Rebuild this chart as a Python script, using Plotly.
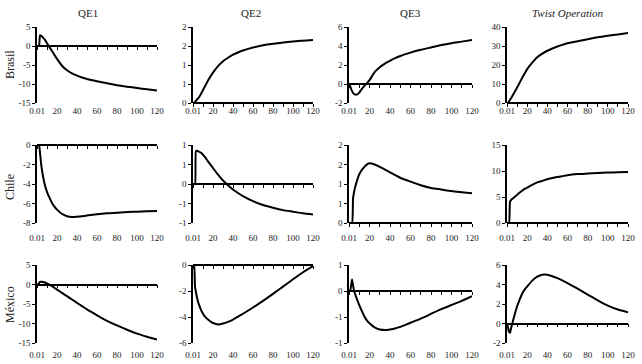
import plotly.graph_objects as go

MONTHS = [0.01, 1, 2, 3, 4, 5, 6, 8, 10, 12, 15, 18, 20, 25, 30, 35, 40, 45, 50, 60, 70, 80, 90, 100, 110, 120]

COLUMNS = ["QE1", "QE2", "QE3", "<i>Twist Operation</i>"]
ROWS = ["Brasil", "Chile", "México"]

brasil_qe1 = [0, 0, 0, 2.8, 2.7, 2.5, 2.2, 1.6, 0.7, -0.1, -1.3, -2.6, -3.4, -5.2, -6.4, -7.2, -7.8, -8.3, -8.7, -9.3, -9.8, -10.3, -10.7, -11.05, -11.4, -11.7]
brasil_qe2 = [0, 0, 0.03, 0.06, 0.09, 0.12, 0.15, 0.24, 0.34, 0.44, 0.59, 0.72, 0.80, 0.97, 1.10, 1.19, 1.27, 1.33, 1.38, 1.46, 1.52, 1.56, 1.59, 1.62, 1.64, 1.66]
brasil_qe3 = [0, -0.2, -0.5, -0.75, -0.95, -1.05, -1.12, -1.1, -0.9, -0.6, -0.2, 0.15, 0.4, 1.25, 1.76, 2.15, 2.44, 2.72, 2.95, 3.3, 3.6, 3.85, 4.1, 4.3, 4.46, 4.64]
brasil_twist = [0, 0, 0.8, 1.6, 2.5, 3.4, 4.3, 6.2, 8.1, 10.1, 13.2, 16.0, 17.8, 21.2, 24.1, 26.0, 27.5, 28.7, 29.7, 31.4, 32.5, 33.6, 34.6, 35.4, 36.1, 36.8]

chile_qe1 = [0, 0, 0, -0.8, -1.8, -2.6, -3.2, -4.15, -4.8, -5.3, -5.95, -6.4, -6.63, -7.07, -7.3, -7.38, -7.35, -7.3, -7.24, -7.1, -7.0, -6.94, -6.87, -6.84, -6.8, -6.77]
chile_qe2 = [0, 0, 0, 0.85, 0.85, 0.84, 0.83, 0.8, 0.75, 0.69, 0.58, 0.48, 0.41, 0.24, 0.09, -0.03, -0.14, -0.23, -0.31, -0.44, -0.54, -0.61, -0.67, -0.71, -0.75, -0.78]
chile_qe3 = [0, 0, 0, 0, 0.64, 0.8, 0.92, 1.1, 1.25, 1.34, 1.44, 1.51, 1.53, 1.5, 1.44, 1.37, 1.3, 1.23, 1.16, 1.06, 0.97, 0.9, 0.86, 0.82, 0.79, 0.76]
chile_twist = [0, 0, 0, 4.1, 4.4, 4.6, 4.75, 5.1, 5.4, 5.75, 6.2, 6.6, 6.8, 7.35, 7.8, 8.1, 8.4, 8.65, 8.85, 9.2, 9.4, 9.5, 9.6, 9.7, 9.75, 9.8]

mexico_qe1 = [0, 0, 0.3, 0.7, 0.72, 0.7, 0.65, 0.5, 0.26, 0.05, -0.43, -0.95, -1.3, -2.15, -3.0, -3.85, -4.7, -5.55, -6.4, -7.9, -9.3, -10.5, -11.6, -12.6, -13.4, -14.1]
mexico_qe2 = [0, 0, -1.66, -2.1, -2.5, -2.8, -3.05, -3.45, -3.75, -3.97, -4.2, -4.38, -4.46, -4.57, -4.5, -4.37, -4.2, -3.98, -3.75, -3.27, -2.76, -2.22, -1.66, -1.1, -0.56, -0.08]
mexico_qe3 = [0, 0, 0.1, 0.22, 0.1, 0.0, -0.06, -0.17, -0.27, -0.36, -0.49, -0.58, -0.62, -0.70, -0.74, -0.75, -0.74, -0.72, -0.69, -0.61, -0.53, -0.44, -0.35, -0.27, -0.19, -0.10]
mexico_twist = [0, -0.4, -0.85, -0.95, -0.5, -0.1, 0.3, 1.05, 1.77, 2.3, 3.06, 3.55, 3.8, 4.4, 4.8, 5.0, 5.0, 4.85, 4.65, 4.15, 3.57, 2.96, 2.38, 1.84, 1.43, 1.16]

SERIES = [
    [brasil_qe1, brasil_qe2, brasil_qe3, brasil_twist],
    [chile_qe1, chile_qe2, chile_qe3, chile_twist],
    [mexico_qe1, mexico_qe2, mexico_qe3, mexico_twist],
]

X_TICKVALS = [0.01, 20, 40, 60, 80, 100, 120]
X_TICKTEXT = ["0.01", "20", "40", "60", "80", "100", "120"]
X_MINOR = [0, 10, 20, 30, 40, 50, 60, 70, 80, 90, 100, 110, 120]

Y_TICKVALS = [
    [[-15, -10, -5, 0, 5], [0, 0.5, 1, 1.5, 2], [-2, 0, 2, 4, 6], [0, 10, 20, 30, 40]],
    [[-8, -6, -4, -2, 0], [-1, -0.5, 0, 0.5, 1], [0, 0.5, 1, 1.5, 2], [0, 5, 10, 15]],
    [[-15, -10, -5, 0, 5], [-6, -4, -2, 0], [-1, -0.5, 0, 0.5], [-2, 0, 2, 4, 6]],
]
Y_TICKTEXT = [
    [["-15", "-10", "-5", "0", "5"], ["0", "1", "1", "2", "2"], ["-2", "0", "2", "4", "6"], ["0", "10", "20", "30", "40"]],
    [["-8", "-6", "-4", "-2", "0"], ["-1", "-1", "0", "1", "1"], ["0", "1", "1", "2", "2"], ["0", "5", "10", "15"]],
    [["-15", "-10", "-5", "0", "5"], ["-6", "-4", "-2", "0"], ["-1", "-1", "0", "1"], ["-2", "0", "2", "4", "6"]],
]

W, H = 642, 364
COL_PX = [(37, 157), (193, 313), (349, 472), (507, 628)]
ROW_PX = [(27, 103), (145, 223), (265, 343)]
LABEL_STANDOFF = [1, 8, 5]
TITLE_X = [88, 251, 410, 568]
ROW_LABEL_Y = [65, 187, 305]

FONT = "Liberation Serif"
fig = go.Figure()
layout = dict(
    width=W, height=H, margin=dict(l=0, r=0, t=0, b=0, autoexpand=False),
    paper_bgcolor="white", plot_bgcolor="white", showlegend=False,
    font=dict(family=FONT, size=9, color="#222"),
)
annotations = []

for r in range(3):
    for c in range(4):
        i = r * 4 + c + 1
        j = 12 + i
        x0, x1 = COL_PX[c][0] / W, COL_PX[c][1] / W
        y1, y0 = 1 - ROW_PX[r][0] / H, 1 - ROW_PX[r][1] / H
        tv = Y_TICKVALS[r][c]
        ymin, ymax = tv[0], tv[-1]
        fig.add_trace(go.Scatter(x=MONTHS, y=SERIES[r][c], mode="lines",
                                 line=dict(color="black", width=2, shape="spline", smoothing=0.6),
                                 xaxis=f"x{i}", yaxis=f"y{i}", hoverinfo="skip"))
        fig.add_trace(go.Scatter(x=[], y=[], mode="lines", xaxis=f"x{j}", yaxis=f"y{i}"))
        layout[f"xaxis{i}"] = dict(domain=[x0, x1], anchor=f"y{i}", range=[0, 120],
                                   showline=False, showgrid=False, zeroline=False, automargin=False,
                                   ticks="", tickvals=X_TICKVALS, ticktext=X_TICKTEXT,
                                   ticklabelstandoff=LABEL_STANDOFF[r],
                                   tickfont=dict(size=9, family=FONT))
        pos = y0 + (0 - ymin) / (ymax - ymin) * (y1 - y0)
        layout[f"xaxis{j}"] = dict(domain=[x0, x1], anchor="free", position=pos,
                                   overlaying=f"x{i}", range=[0, 120], automargin=False,
                                   showline=True, linecolor="black", linewidth=1.5,
                                   ticks="outside", ticklen=3, tickwidth=1.2, tickcolor="black",
                                   tickvals=X_MINOR, showticklabels=False,
                                   showgrid=False, zeroline=False)
        layout[f"yaxis{i}"] = dict(domain=[y0, y1], anchor=f"x{i}", range=[ymin, ymax],
                                   showline=True, linecolor="black", linewidth=1.5, automargin=False,
                                   ticks="outside", ticklen=3, tickwidth=1.2, tickcolor="black",
                                   tickvals=tv, ticktext=Y_TICKTEXT[r][c],
                                   showgrid=False, zeroline=False,
                                   tickfont=dict(size=9, family=FONT))

for c in range(4):
    annotations.append(dict(text=COLUMNS[c], x=TITLE_X[c] / W, y=1 - 13 / H,
                            xref="paper", yref="paper", showarrow=False,
                            xanchor="center", yanchor="middle",
                            font=dict(size=11, family=FONT, color="#222")))
for r in range(3):
    annotations.append(dict(text=ROWS[r], x=10 / W, y=1 - ROW_LABEL_Y[r] / H,
                            xref="paper", yref="paper", showarrow=False, textangle=-90,
                            xanchor="center", yanchor="middle",
                            font=dict(size=12, family=FONT, color="#222")))
layout["annotations"] = annotations
fig.update_layout(**layout)
fig.write_html("out.html", config={"displayModeBar": False},
               post_script="document.body.style.margin='0';document.body.style.padding='0';")
